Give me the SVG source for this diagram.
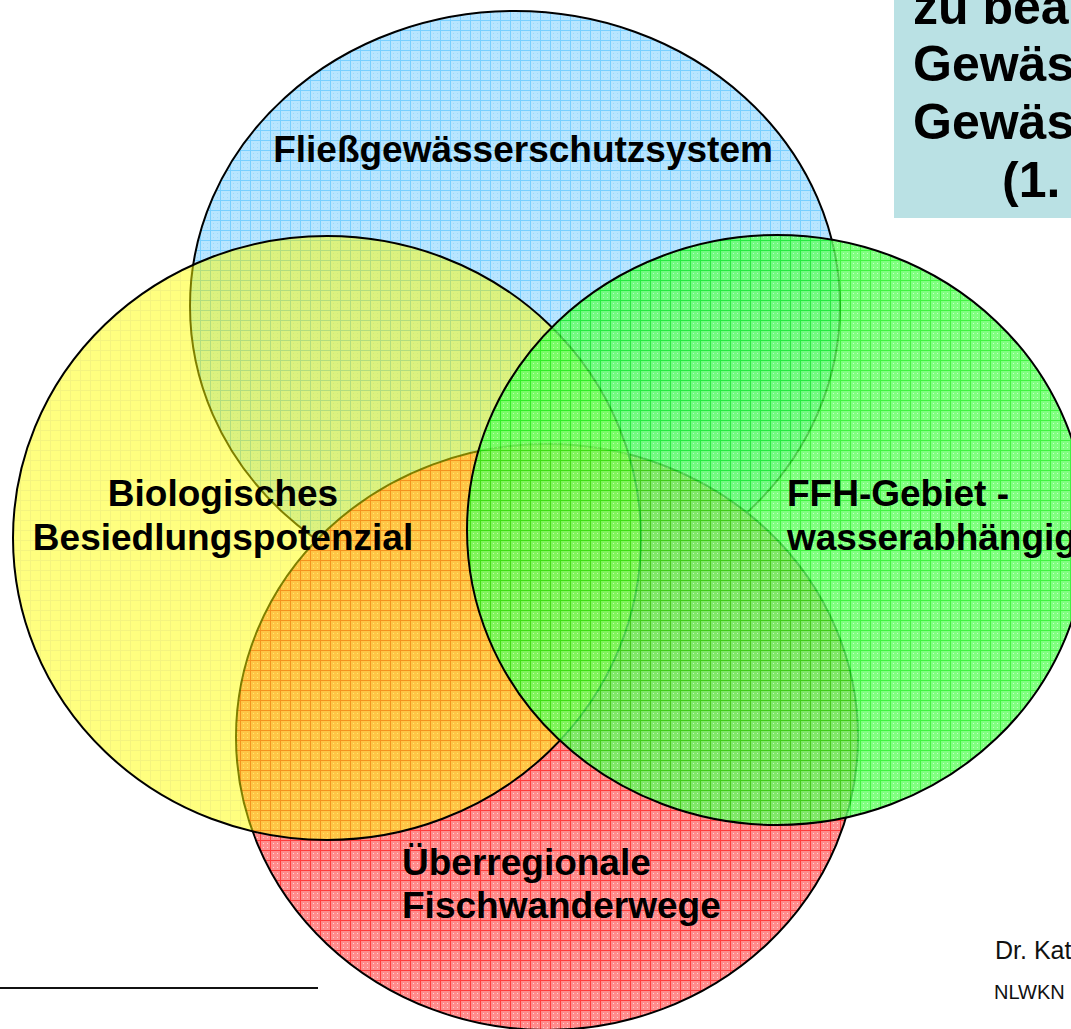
<svg xmlns="http://www.w3.org/2000/svg" width="1071" height="1029" viewBox="0 0 1071 1029">
<style>
.lbl{font-family:"Liberation Sans",Arial,sans-serif;font-weight:bold;font-size:37px;fill:#000}
.ttl{font-family:"Liberation Sans",Arial,sans-serif;font-weight:bold;font-size:50px;fill:#000}
.sm{font-family:"Liberation Sans",Arial,sans-serif;fill:#111}
.ring{stroke:#000;stroke-width:2}
</style>
<defs>
<pattern id="pb" width="10" height="10" patternUnits="userSpaceOnUse">
<rect width="10" height="10" fill="#b8e5ff"/>
<path d="M0 0.5H10M0.5 0V10" stroke="#78cfff" stroke-width="1"/>
<path d="M3 3h1v1h-1zM7 7h1v1h-1zM7 3h1v1h-1zM3 7h1v1h-1z" fill="#a0d8f8"/>
</pattern>
<pattern id="py" width="10" height="10" patternUnits="userSpaceOnUse">
<rect width="10" height="10" fill="#ffff00"/>
<path d="M0 0.5H10M0.5 0V10" stroke="#eaea00" stroke-width="1"/>
</pattern>
<pattern id="pr" width="10" height="10" patternUnits="userSpaceOnUse">
<rect width="10" height="10" fill="#ff8c8c"/>
<path d="M0 0.5H10M0.5 0V10" stroke="#ff3c3c" stroke-width="1"/>
<path d="M3 3h1v1h-1zM7 7h1v1h-1zM7 3h1v1h-1zM3 7h1v1h-1z" fill="#ffd6d6"/>
</pattern>
<pattern id="pg" width="10" height="10" patternUnits="userSpaceOnUse">
<rect width="10" height="10" fill="#60ff60"/>
<path d="M0 0.5H10M0.5 0V10" stroke="#10f010" stroke-width="1"/>
<path d="M3 3h1v1h-1zM7 7h1v1h-1zM7 3h1v1h-1zM3 7h1v1h-1z" fill="#b8ffb8"/>
</pattern>
</defs>
<g id="title-box">
<rect x="894" y="0" width="177" height="218" fill="#bae1e4"/>
<text class="ttl" x="913" y="24">zu bea</text>
<text class="ttl" x="913" y="81">Gewäs</text>
<text class="ttl" x="913" y="139">Gewäs</text>
<text class="ttl" x="1002" y="197">(1.</text>
</g>
<g id="node-fliessgewaesser">
<ellipse cx="515" cy="306" rx="325" ry="295" fill="url(#pb)" class="ring"/>
</g>
<g id="node-fischwanderwege">
<ellipse cx="547" cy="737" rx="311" ry="293" fill="url(#pr)" class="ring"/>
</g>
<g id="node-besiedlung">
<ellipse cx="327" cy="538" rx="314" ry="302" fill="url(#py)" fill-opacity="0.5" class="ring"/>
</g>
<g id="node-ffh">
<ellipse cx="777" cy="530" rx="310" ry="295" fill="url(#pg)" fill-opacity="0.8" class="ring"/>
</g>
<g id="labels">
<text class="lbl" x="523" y="162" text-anchor="middle">Fließgewässerschutzsystem</text>
<text class="lbl" x="223" y="506" text-anchor="middle">Biologisches</text>
<text class="lbl" x="223" y="550" text-anchor="middle">Besiedlungspotenzial</text>
<text class="lbl" x="787" y="506">FFH-Gebiet -</text>
<text class="lbl" x="787" y="550">wasserabhängig</text>
<text class="lbl" x="402" y="875">Überregionale</text>
<text class="lbl" x="402" y="918">Fischwanderwege</text>
</g>
<g id="connectors">
<line x1="0" y1="988" x2="318" y2="988" stroke="#111" stroke-width="2"/>
</g>
<g id="footer">
<text class="sm" x="995" y="959" font-size="25">Dr. Kat</text>
<text class="sm" x="994" y="999" font-size="20">NLWKN</text>
</g>
</svg>
